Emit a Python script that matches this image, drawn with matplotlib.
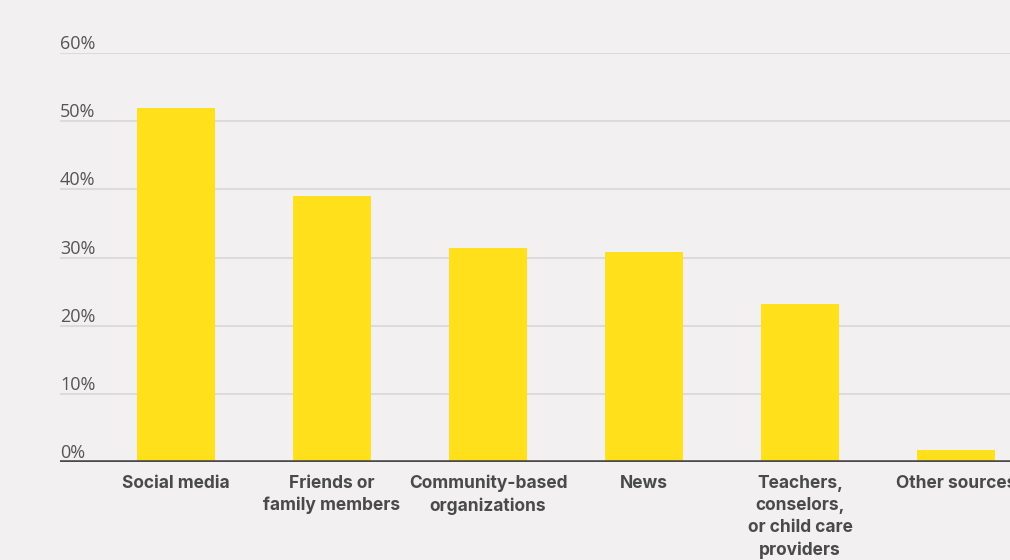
import matplotlib.pyplot as plt
import numpy as np

categories = ['Social media', 'Friends or\nfamily members', 'Community-based\norganizations',
              'News', 'Teachers,\nconselors,\nor child care\nproviders', 'Other sources']
values = [51.9, 39.0, 31.4, 30.8, 23.2, 1.8]
yticks = [0, 10, 20, 30, 40, 50, 60]

bg = '#f2f0f1'
textcol = '#4a4a4a'

fig = plt.figure(figsize=(10.1, 5.6), dpi=100, facecolor=bg)
ax = fig.add_axes([60 / 1010, 98 / 560, 950 / 1010, 409 / 560], facecolor=bg)

x = np.arange(len(categories))
ax.bar(x, values, width=0.5, color='#ffe01b', zorder=2)

ax.set_xlim(-0.744, 5.346)
ax.set_ylim(0, 60)

for t in yticks:
    if t > 0:
        ax.axhline(t, color='#dcdadb', lw=1.5, zorder=1)
    ax.text(0, t, f'{t}%', transform=ax.get_yaxis_transform(), ha='left', va='bottom',
            fontsize=13, color='#555555', family='Open Sans')
ax.axhline(0, color='#4a4a4a', lw=2.6, zorder=3)

ax.set_yticks([])
ax.set_xticks(x)
ax.set_xticklabels(categories, fontsize=12.5, fontweight='bold', color=textcol,
                   family='Inter', linespacing=1.4)
ax.tick_params(axis='x', length=0, pad=9)
for s in ax.spines.values():
    s.set_visible(False)

fig.savefig('out.png', dpi=100, facecolor=bg)
